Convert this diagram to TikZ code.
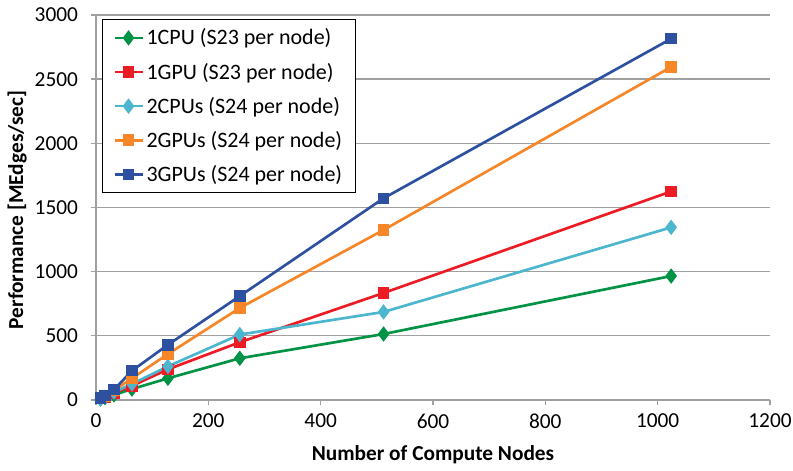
\documentclass[tikz,border=0pt]{standalone}
\usepackage{fontspec}
\setmainfont{Carlito}
\usepackage{pgfplots}
\pgfplotsset{compat=1.18}

\definecolor{axisgray}{RGB}{160,160,160}
\definecolor{cpuone}{RGB}{0,146,69}
\definecolor{gpuone}{RGB}{237,28,36}
\definecolor{cputwo}{RGB}{75,182,206}
\definecolor{gputwo}{RGB}{247,134,40}
\definecolor{gputhree}{RGB}{46,80,160}

\pgfplotsset{
  series/.style={line width=2pt, mark options={solid, line width=1pt}},
  sqmark/.style={series, mark=square*, mark size=3.8pt},
  dmmark/.style={series, mark=diamond*, mark size=5pt},
}

\begin{document}
\begin{tikzpicture}
\useasboundingbox (-72pt,-53.25pt) rectangle (522.75pt,300pt);

\begin{axis}[
  name=perf,
  at={(0,0)}, anchor=south west,
  scale only axis, width=505.5pt, height=288.75pt,
  xmin=0, xmax=1200, ymin=0, ymax=3000,
  enlargelimits=false,
  axis lines*=left,
  axis line style={draw=axisgray, line width=1pt, -},
  tick align=outside,
  major tick length=4pt,
  tick style={draw=axisgray, line width=1pt},
  ymajorgrids,
  grid style={draw=axisgray, line width=1pt},
  xtick={0,200,...,1200}, xticklabels={0,200,400,600,800,1000,1200},
  ytick={0,500,...,3000}, yticklabels={0,500,1000,1500,2000,2500,3000},
  tick label style={font=\fontsize{16}{19}\selectfont},
  xticklabel style={yshift=-3pt},
  yticklabel style={xshift=-6pt},
  xlabel={Number of Compute Nodes},
  ylabel={Performance [MEdges/sec]},
  label style={font=\fontsize{16}{19}\selectfont\bfseries},
  xlabel style={at={(axis description cs:0.5,-0.143)}, anchor=center},
  ylabel style={at={(axis description cs:-0.117,0.4935)}, anchor=center},
  legend cell align=left,
  legend style={at={(0.0089,0.9896)}, anchor=north west, draw=black,
    line width=0.8pt, fill=white, font=\fontsize{16.5}{19}\selectfont,
    inner xsep=8pt, inner ysep=5pt, row sep=8pt},
  legend image code/.code={
    \draw[mark repeat=2, mark phase=2] plot coordinates {(0pt,0pt) (10.5pt,0pt) (21pt,0pt)};},
]

% 1 CPU per node
\addplot[dmmark, color=cpuone] coordinates {
  (8,8) (16,18) (32,40) (64,85) (128,169) (256,325) (512,514) (1024,966)};
\addlegendentry{1CPU (S23 per node)}

% 1 GPU per node
\addplot[sqmark, color=gpuone] coordinates {
  (8,12) (16,24) (32,55) (64,110) (128,239) (256,450) (512,834) (1024,1625)};
\addlegendentry{1GPU (S23 per node)}

% 2 CPUs per node
\addplot[dmmark, color=cputwo] coordinates {
  (8,10) (16,22) (32,62) (64,125) (128,262) (256,510) (512,686) (1024,1345)};
\addlegendentry{2CPUs (S24 per node)}

% 2 GPUs per node
\addplot[sqmark, color=gputwo] coordinates {
  (8,15) (16,30) (32,75) (64,169) (128,358) (256,717) (512,1325) (1024,2595)};
\addlegendentry{2GPUs (S24 per node)}

% 3 GPUs per node
\addplot[sqmark, color=gputhree] coordinates {
  (8,16) (16,33) (32,80) (64,228) (128,430) (256,810) (512,1572) (1024,2815)};
\addlegendentry{3GPUs (S24 per node)}

\end{axis}
\end{tikzpicture}
\end{document}
